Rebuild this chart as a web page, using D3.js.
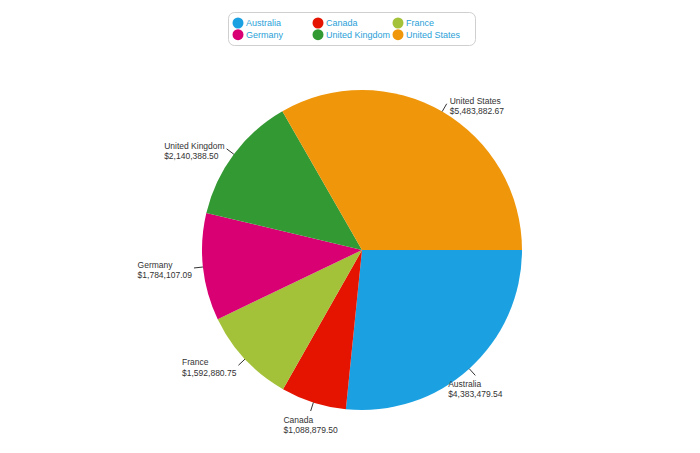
<!DOCTYPE html>
<html>
<head>
<meta charset="utf-8">
<script src="https://cdn.jsdelivr.net/npm/d3@7.9.0/dist/d3.min.js"></script>
<style>
  body { margin: 0; background: #fff; }
  svg { display: block; font-family: "Liberation Sans", Arial, sans-serif; }
</style>
</head>
<body>
<div id="chart"></div>
<script>
const countries = ['Australia', 'Canada', 'France', 'Germany', 'United Kingdom', 'United States'];
const sales = [4383479.54, 1088879.50, 1592880.75, 1784107.09, 2140388.50, 5483882.67];
const colors = ['#1ba1e2', '#e51400', '#a4c13a', '#d80073', '#339933', '#f0960a'];

const data = countries.map((c, i) => ({ country: c, value: sales[i] }));

const width = 700;
const height = 453;
const cx = 362, cy = 250, radius = 160;

const svg = d3.select('#chart')
  .append('svg')
  .attr('width', width)
  .attr('height', height);

const color = d3.scaleOrdinal().domain(countries).range(colors);

const pie = d3.pie()
  .value(d => d.value)
  .sort(null)
  .startAngle(Math.PI / 2)
  .endAngle(Math.PI / 2 + 2 * Math.PI);

const arc = d3.arc().innerRadius(0).outerRadius(radius);

const arcs = pie(data);

const g = svg.append('g').attr('transform', `translate(${cx},${cy})`);

g.selectAll('path')
  .data(arcs)
  .join('path')
  .attr('d', arc)
  .attr('fill', d => color(d.data.country));

const fmt = d3.format('$,.2f');

// labels with short leader lines
const labels = svg.append('g').attr('class', 'labels');
arcs.forEach(d => {
  const a = (d.startAngle + d.endAngle) / 2;
  const s = Math.sin(a), c = Math.cos(a);
  const x0 = cx + s * radius, y0 = cy - c * radius;
  const x1 = cx + s * (radius + 9), y1 = cy - c * (radius + 9);

  labels.append('line')
    .attr('x1', x0).attr('y1', y0)
    .attr('x2', x1).attr('y2', y1)
    .attr('stroke', '#333')
    .attr('stroke-width', 1);

  const t = labels.append('text')
    .attr('font-size', '8.5px')
    .attr('fill', '#333');
  const l1 = t.append('tspan').text(d.data.country);
  const l2 = t.append('tspan').text(fmt(d.data.value));
  const w = Math.max(l1.node().getComputedTextLength(), l2.node().getComputedTextLength());

  let left, base;
  if (c < -0.7) {
    left = x1 - w / 2;
    base = y1 + 11.5;
  } else if (s > 0) {
    left = x1 + 3;
    base = y1;
  } else {
    left = x1 - 2 - w;
    base = y1;
  }
  l1.attr('x', left).attr('y', base);
  l2.attr('x', left).attr('y', base + 10.5);
});

// legend
const legend = svg.append('g').attr('transform', 'translate(228,12)');
legend.append('rect')
  .attr('x', 0.5).attr('y', 0.5)
  .attr('width', 247).attr('height', 33)
  .attr('rx', 6)
  .attr('fill', '#fff')
  .attr('stroke', '#cfcfcf');

const items = legend.selectAll('g.item')
  .data(countries)
  .join('g')
  .attr('class', 'item')
  .attr('transform', (d, i) => `translate(${10 + (i % 3) * 80},${11 + Math.floor(i / 3) * 11.7})`);

items.append('circle')
  .attr('r', 5.5)
  .attr('fill', d => color(d));

items.append('text')
  .attr('x', 8)
  .attr('y', 3.3)
  .attr('font-size', '9px')
  .attr('fill', '#2a9fd8')
  .text(d => d);
</script>
</body>
</html>
